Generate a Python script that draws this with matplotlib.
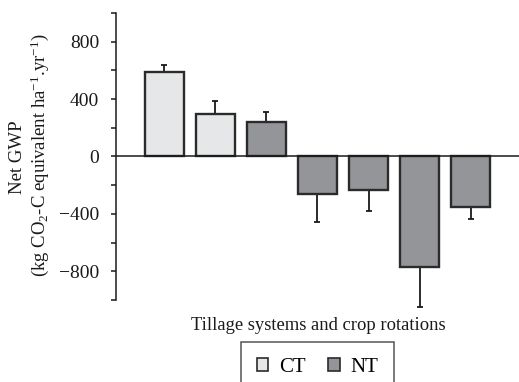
import matplotlib
matplotlib.use("Agg")
import matplotlib.pyplot as plt
from matplotlib.patches import Patch

plt.rcParams['font.family'] = ['Liberation Serif', 'DejaVu Serif']
plt.rcParams['mathtext.fontset'] = 'custom'
plt.rcParams['mathtext.rm'] = 'Liberation Serif'
plt.rcParams['mathtext.it'] = 'Liberation Serif:italic'

values = [590, 295, 237, -258, -235, -768, -351]
errors = [45, 93, 70, 198, 146, 281, 82]
groups = ['CT', 'CT', 'NT', 'NT', 'NT', 'NT', 'NT']
colors_map = {'CT': '#e6e7e8', 'NT': '#939598'}
yticks = [-800, -400, 0, 400, 800]

fig = plt.figure(figsize=(5.19, 3.82), dpi=100)
ax = fig.add_axes([0.2235, 0.2147, 0.7765, 0.7513])

x = list(range(len(values)))
cols = [colors_map[g] for g in groups]
ax.bar(x, values, width=0.75, color=cols, edgecolor='#2b2b2b', linewidth=1.7, zorder=3)
lower = [0 if v > 0 else e for v, e in zip(values, errors)]
upper = [e if v > 0 else 0 for v, e in zip(values, errors)]
eb = ax.errorbar(x, values, yerr=[lower, upper], fmt='none', ecolor='#1a1a1a',
                 elinewidth=1.3, capsize=2.5, capthick=1.3, zorder=2)
for c in eb.get_children():
    c.set_clip_on(False)

ax.axhline(0, color='#1a1a1a', linewidth=1.1, zorder=4)
ax.set_xlim(-0.95, 6.95)
ax.set_ylim(-1000, 1000)
ax.set_yticks(yticks)
ax.set_yticks(range(-1000, 1001, 200), minor=True)
ax.set_yticklabels([f"{t:d}".replace('-', '\u2212') for t in yticks])
ax.tick_params(axis='y', which='both', direction='out', length=3.5, width=1.1,
               labelsize=14, pad=8.5, colors='#1a1a1a')
ax.set_xticks([])
for s in ['top', 'right', 'bottom']:
    ax.spines[s].set_visible(False)
ax.spines['left'].set_linewidth(1.1)
ax.spines['left'].set_color('#1a1a1a')

fig.text(17/519, 1 - 157/382, 'Net GWP', rotation=90, ha='center', va='center',
         fontsize=13.5, color='#1a1a1a')
fig.text(40/519, 1 - 155/382, '(kg CO$_2$-C equivalent ha$^{-1}$.yr$^{-1}$)', rotation=90,
         ha='center', va='center', fontsize=13.5, color='#1a1a1a')
fig.text(318/519, 1 - 330/382, 'Tillage systems and crop rotations', ha='center',
         va='baseline', fontsize=13.4, color='#1a1a1a')

handles = [Patch(facecolor=colors_map['CT'], edgecolor='#2b2b2b', linewidth=1.2, label='CT'),
           Patch(facecolor=colors_map['NT'], edgecolor='#2b2b2b', linewidth=1.2, label='NT')]
leg = fig.legend(handles=handles, loc='upper center', bbox_to_anchor=(317.5/519, 1 - 342.3/382),
                 ncol=2, frameon=True, fancybox=False, fontsize=15, handlelength=0.55,
                 handleheight=0.55, handletextpad=0.5, columnspacing=1.1, borderpad=0.75,
                 borderaxespad=0, edgecolor='#2b2b2b')
leg.get_frame().set_linewidth(1.1)

fig.savefig('out.png', dpi=100)
